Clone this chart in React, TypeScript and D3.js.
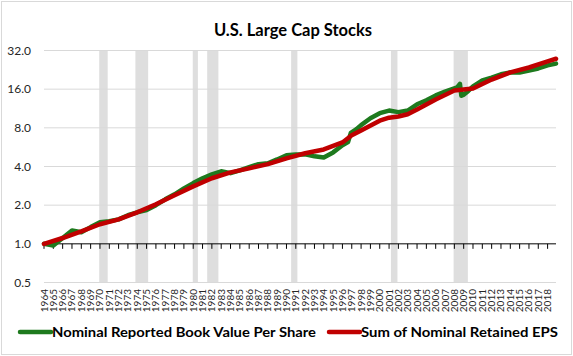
import React from "react";
import * as d3 from "d3";

const title = "U.S. Large Cap Stocks";
const yTicks = [0.5, 1, 2, 4, 8, 16, 32];
const yearLabels = d3.range(1964, 2019);

const bookYears = [1964, 1965, 1966, 1967, 1968, 1969, 1970, 1971, 1972, 1973, 1974, 1975, 1976, 1977, 1978, 1979, 1980, 1981, 1982, 1983, 1984, 1985, 1986, 1987, 1988, 1989, 1990, 1991, 1992, 1993, 1994, 1995, 1996, 1996.6, 1996.9, 1997.5, 1998, 1999, 2000, 2001, 2002, 2003, 2004, 2005, 2006, 2007, 2008.3, 2008.6, 2008.75, 2009, 2009.5, 2010, 2011, 2012, 2013, 2014, 2015, 2016, 2017, 2018, 2018.9];
const bookValues = [1.0, 0.97, 1.11, 1.27, 1.23, 1.35, 1.47, 1.5, 1.55, 1.67, 1.76, 1.83, 2.0, 2.22, 2.43, 2.7, 2.97, 3.24, 3.47, 3.67, 3.55, 3.73, 3.95, 4.17, 4.24, 4.54, 4.89, 4.97, 4.97, 4.8, 4.7, 5.15, 5.85, 6.2, 7.3, 7.8, 8.4, 9.5, 10.4, 10.9, 10.6, 10.9, 12.2, 13.1, 14.3, 15.3, 16.5, 17.6, 14.2, 14.5, 15.5, 16.8, 18.7, 19.7, 20.9, 21.6, 21.6, 22.3, 23.2, 24.5, 25.3];

const epsYears = [1964, 1966, 1968, 1970, 1972, 1974, 1976, 1978, 1980, 1982, 1984, 1986, 1988, 1990, 1992, 1994, 1996, 1997, 1998, 2000, 2001, 2002, 2003, 2004, 2006, 2008, 2009, 2010, 2012, 2014, 2016, 2018, 2018.9];
const epsValues = [1.0, 1.11, 1.25, 1.42, 1.55, 1.76, 2.03, 2.39, 2.8, 3.24, 3.6, 3.87, 4.17, 4.63, 5.07, 5.43, 6.16, 7.0, 7.64, 9.1, 9.6, 9.8, 10.2, 11.1, 13.3, 15.6, 15.9, 16.2, 19.0, 21.6, 23.6, 26.3, 27.6];

const recessions: [number, number][] = [
  [1969.92, 1970.83], [1973.8, 1975.17], [1979.95, 1980.5], [1981.5, 1982.7],
  [1990.5, 1991.17], [2001.2, 2001.9], [2007.92, 2009.45],
];

const W = 573, H = 356;
const left = 44, right = 556, top = 50.5, bottom = 282.5;

export default function App() {
  const x = d3.scaleLinear().domain([1964, 2018.9]).range([left, right]);
  const y = d3.scaleLog().base(2).domain([0.5, 32]).range([bottom, top]);
  const line = d3.line<[number, number]>().x(d => x(d[0])).y(d => y(d[1])).curve(d3.curveLinear);
  const book = bookYears.map((t, i) => [t, bookValues[i]] as [number, number]);
  const eps = epsYears.map((t, i) => [t, epsValues[i]] as [number, number]);
  const font = "Lato, 'Open Sans', sans-serif";
  const axisY = y(1);
  return (
    <svg width={W} height={H} style={{ position: "fixed", left: 0, top: 0, background: "#fff" }}>
      <rect x={1.5} y={1.5} width={W - 3} height={H - 3} fill="#fff" stroke="#d9d9d9" />
      <text x={293} y={36} textAnchor="middle" fontFamily={font} fontWeight="bold" fontSize={16.5} fill="#000">{title}</text>
      {recessions.map(([a, b], i) => (
        <rect key={i} x={x(a)} y={top} width={x(b) - x(a)} height={bottom - top} fill="#dedede" />
      ))}
      {yTicks.map(v => (
        <g key={v}>
          {v !== 1 && <line x1={left} x2={right} y1={y(v)} y2={y(v)} stroke="#d9d9d9" strokeWidth={1} />}
          <text x={31} y={y(v) + 4} textAnchor="end" fontFamily={font} fontSize={12} fill="#262626">{v.toFixed(1)}</text>
        </g>
      ))}
      <line x1={left} x2={right} y1={axisY} y2={axisY} stroke="#000" strokeWidth={1} />
      {yearLabels.map(t => (
        <g key={t}>
          <line x1={x(t)} x2={x(t)} y1={axisY} y2={axisY + 5} stroke="#000" strokeWidth={1} />
          <text transform={`translate(${x(t) + 3.5},289) rotate(-90)`} textAnchor="end" fontFamily={font} fontSize={10} fill="#262626">{t}</text>
        </g>
      ))}
      <path d={line(book) || ""} fill="none" stroke="#1e7a1e" strokeWidth={4.5} strokeLinejoin="round" strokeLinecap="round" />
      <path d={line(eps) || ""} fill="none" stroke="#c00000" strokeWidth={4.5} strokeLinejoin="round" strokeLinecap="round" />
      <g fontFamily={font} fontWeight="bold" fontSize={14} fill="#000">
        <line x1={20} x2={51} y1={332} y2={332} stroke="#1e7a1e" strokeWidth={4.5} strokeLinecap="round" />
        <text x={52} y={337} textLength={264} lengthAdjust="spacingAndGlyphs">Nominal Reported Book Value Per Share</text>
        <line x1={329} x2={360} y1={332} y2={332} stroke="#c00000" strokeWidth={4.5} strokeLinecap="round" />
        <text x={361} y={337} textLength={197} lengthAdjust="spacingAndGlyphs">Sum of Nominal Retained EPS</text>
      </g>
    </svg>
  );
}
